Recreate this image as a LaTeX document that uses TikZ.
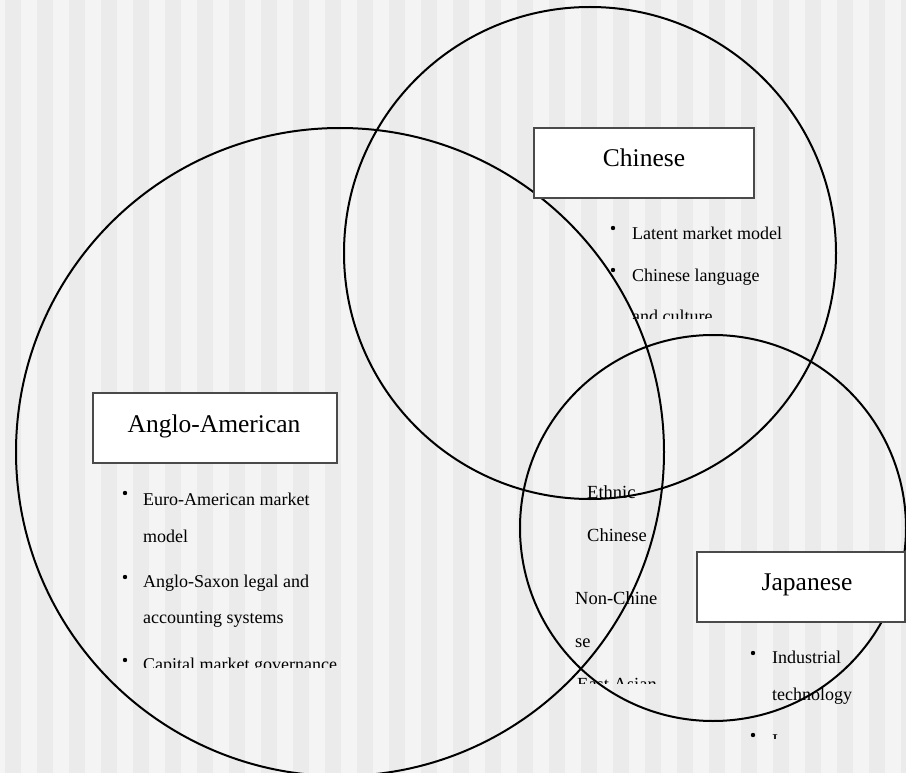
\documentclass[tikz,border=0pt]{standalone}
\usepackage{fontspec}
\setmainfont{Liberation Serif}
\definecolor{stripedark}{HTML}{EBEBEB}
\definecolor{stripelight}{HTML}{F4F4F4}
\definecolor{boxedge}{HTML}{4A4A4A}
\begin{document}
\begin{tikzpicture}[x=1pt,y=-1pt,
  ring/.style={circle, draw=black, line width=2pt, inner sep=0pt},
  labelbox/.style={draw=boxedge, line width=1.3pt, fill=white, inner sep=0pt},
  title/.style={anchor=base, font=\fontsize{25.5}{30}\selectfont, inner sep=0pt},
  item/.style={anchor=base west, font=\fontsize{18}{20}\selectfont, inner sep=0pt},
  mid/.style={anchor=base west, font=\fontsize{18.5}{22}\selectfont, inner sep=0pt},
  dot/.style={circle, fill=black, inner sep=0pt, minimum size=4.4pt}]
\useasboundingbox (0,0) rectangle (906,773);
% background stripes
\begin{scope}
\clip (0,0) rectangle (906,773);
\fill[stripelight] (0,0) rectangle (906,773);
\foreach \k in {0,...,28} \fill[stripedark] ({5+32*\k},0) rectangle ({21+32*\k},773);
\end{scope}
% circles
\node[ring, minimum size=648pt] (anglo) at (340,452) {};
\node[ring, minimum size=492pt] (chinese) at (590,253) {};
\node[ring, minimum size=386pt] (japanese) at (713,528) {};
% boxes
\node[labelbox, minimum width=220pt, minimum height=70pt] (chbox) at (644,163) {};
\node[title] (chtitle) at (644,166.5) {Chinese};
\node[labelbox, minimum width=244pt, minimum height=70pt] (agbox) at (215,428) {};
\node[title] (agtitle) at (214,432) {Anglo-American};
\node[labelbox, minimum width=208pt, minimum height=70pt] (jpbox) at (801,587) {};
\node[title] (jptitle) at (807,590) {Japanese};
% Chinese items
\begin{scope}
\clip (595,205) rectangle (800,318);
\node[dot] (cd1) at (613,228) {};
\node[item] (ct1) at (632,240) {Latent market model};
\node[dot] (cd2) at (613,270) {};
\node[item] (ct2) at (632,281) {Chinese language};
\node[item] (ct3) at (632,322) {and culture};
\end{scope}
% Anglo-American items
\begin{scope}
\clip (110,475) rectangle (380,667);
\node[dot] (ad1) at (125,493) {};
\node[item] (at1) at (143,505) {Euro-American market};
\node[item] (at2) at (143,542) {model};
\node[dot] (ad2) at (125,577) {};
\node[item] (at3) at (143,587) {Anglo-Saxon legal and};
\node[item] (at4) at (143,623) {accounting systems};
\node[dot] (ad3) at (125,660) {};
\node[item] (at5) at (143,670) {Capital market governance};
\end{scope}
% middle text
\begin{scope}
\clip (565,470) rectangle (670,683);
\node[mid] (m1) at (587,498) {Ethnic};
\node[mid] (m2) at (587,541) {Chinese};
\node[mid] (m3) at (575,604) {Non-Chine};
\node[mid] (m4) at (575,647) {se};
\node[mid] (m5) at (577,690) {East Asian};
\end{scope}
% Japanese items
\begin{scope}
\clip (740,635) rectangle (906,738);
\node[dot] (jd1) at (753,653) {};
\node[item] (jt1) at (772,663) {Industrial};
\node[item] (jt2) at (772,700) {technology};
\node[dot] (jd2) at (753,735) {};
\node[item] (jt3) at (772,746) {I};
\end{scope}
\end{tikzpicture}
\end{document}
